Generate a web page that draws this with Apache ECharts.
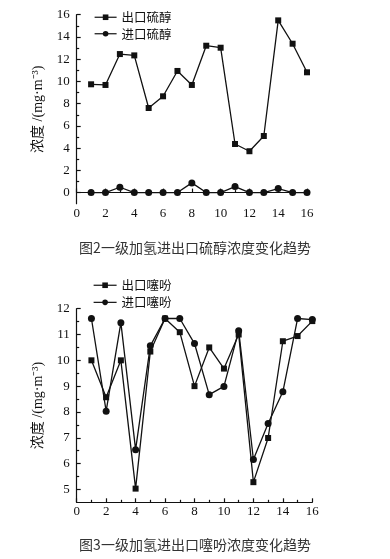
<!DOCTYPE html>
<html><head><meta charset="utf-8">
<script src="https://cdn.jsdelivr.net/npm/echarts@6/dist/echarts.min.js"></script>
<style>html,body{margin:0;padding:0;background:#fff}#c{width:390px;height:559px}</style>
</head><body><div id="c"></div>
<script>
const xValues = [1,2,3,4,5,6,7,8,9,10,11,12,13,14,15,16];
const outMercaptan = [9.74,9.68,12.46,12.34,7.61,8.66,10.94,9.68,13.21,13.03,4.37,3.72,5.09,15.49,13.39,10.82];
const inMercaptan  = [0,0,0.48,0,0,0,0,0.87,0,0,0.54,0,0,0.36,0,0];
const outThiophene = [10.0,8.57,10.0,5.03,10.34,11.62,11.09,9.0,10.5,9.68,11.0,5.28,6.99,10.74,10.94,11.52];
const inThiophene  = [11.62,8.03,11.46,6.54,10.56,11.62,11.62,10.65,8.67,8.99,11.15,6.16,7.55,8.78,11.62,11.58];
const xTicks = [0,2,4,6,8,10,12,14,16];
const y1Ticks = [0,2,4,6,8,10,12,14,16];
const y1Minor = [1,3,5,7,9,11,13,15];
const y2Ticks = [5,6,7,8,9,10,11,12];
const y2Minor = [5.5,6.5,7.5,8.5,9.5,10.5,11.5];
const names1 = ['出口硫醇','进口硫醇'];
const names2 = ['出口噻吩','进口噻吩'];
const captions = ['图2一级加氢进出口硫醇浓度变化趋势','图3一级加氢进出口噻吩浓度变化趋势'];
const yName = '浓度 /(mg·m⁻³)';

const pair = (ys) => xValues.map((x,i)=>[x, ys[i]]);
const ink = '#111';
const serif = '"Liberation Serif","Times New Roman",serif';
const lineCol = {color: ink, width: 1.2};

function xAxis(gi){
  return {type:'value', gridIndex:gi, min:0, max:16, interval:2,
    axisLine:{lineStyle:lineCol}, splitLine:{show:false},
    axisTick:{inside:true, length:4, lineStyle:lineCol},
    minorTick:{show:true, splitNumber:2, length:2.5, lineStyle:lineCol},
    axisLabel:{color:'#111', fontFamily:serif, fontSize:13, margin:3}};
}
function yAxisMain(gi, min, max, ticks, withName){
  return {type:'value', gridIndex:gi, min:min, max:max, position:'left',
    name: withName ? yName : '', nameLocation:'middle', nameGap:31, nameRotate:90,
    nameTextStyle:{color:'#111', fontSize:14, fontFamily:'"Liberation Serif","Noto Sans CJK SC",serif'},
    axisLine:{show:true, lineStyle:lineCol}, splitLine:{show:false},
    axisTick:{show:true, inside:true, length:4, lineStyle:lineCol, customValues:ticks},
    axisLabel:{show:true, color:'#111', fontFamily:serif, fontSize:13, margin:7, customValues:ticks}};
}
function yAxisMinor(gi, min, max, ticks){
  return {type:'value', gridIndex:gi, min:min, max:max, position:'left', offset:0,
    axisLine:{show:false}, splitLine:{show:false},
    axisTick:{show:true, inside:true, length:2.5, lineStyle:lineCol, customValues:ticks},
    axisLabel:{show:false, customValues:ticks}};
}
function series(name, data, xi, yi, sym, size){
  return {name:name, type:'line', xAxisIndex:xi, yAxisIndex:yi, data:data,
    symbol:sym, symbolSize:size, showSymbol:true,
    lineStyle:{color:ink, width:1.3}, itemStyle:{color:ink}, animation:false};
}
const legendText = {fontSize:12.5, color:'#111', fontFamily:'"Noto Sans CJK SC",serif'};
const chart = echarts.init(document.getElementById('c'), null, {renderer:'canvas'});
chart.setOption({
  backgroundColor:'#fff',
  animation:false,
  title:[
    {text:captions[0], left:'center', top:241, textStyle:{fontSize:14, fontWeight:'normal', color:'#333', fontFamily:'"Noto Sans CJK SC",sans-serif'}, padding:0},
    {text:captions[1], left:'center', top:538, textStyle:{fontSize:14, fontWeight:'normal', color:'#333', fontFamily:'"Noto Sans CJK SC",sans-serif'}, padding:0}
  ],
  legend:[
    {data:names1, orient:'vertical', left:94, top:11, itemWidth:22, itemHeight:7, itemGap:4, padding:0,
      textStyle:legendText, itemStyle:{borderWidth:0}, lineStyle:{width:1.2}},
    {data:names2, orient:'vertical', left:93, top:279, itemWidth:23, itemHeight:7, itemGap:4.6, padding:0,
      textStyle:legendText, itemStyle:{borderWidth:0}, lineStyle:{width:1.2}}
  ],
  grid:[
    {left:76.7, top:14.7, width:230.3, height:189},
    {left:76.7, top:308.7, width:235.6, height:193.6}
  ],
  xAxis:[xAxis(0), xAxis(1)],
  yAxis:[
    yAxisMain(0,-1,16,y1Ticks,true),
    yAxisMain(1,4.5,12,y2Ticks,true),
    yAxisMinor(0,-1,16,y1Minor),
    yAxisMinor(1,4.5,12,y2Minor)
  ],
  series:[
    series(names1[0], pair(outMercaptan), 0, 0, 'rect', 6),
    series(names1[1], pair(inMercaptan), 0, 0, 'circle', 7),
    series(names2[0], pair(outThiophene), 1, 1, 'rect', 6),
    series(names2[1], pair(inThiophene), 1, 1, 'circle', 7)
  ]
});
</script></body></html>
